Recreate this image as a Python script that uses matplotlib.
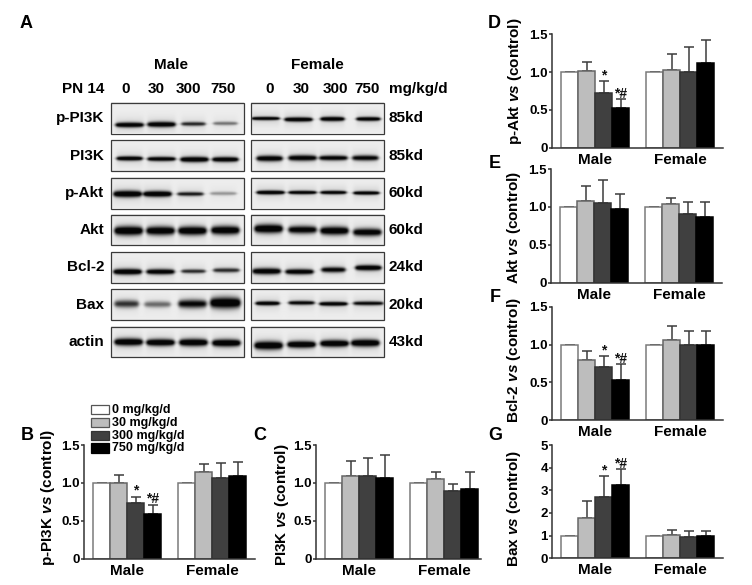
"""Western blot panel plus densitometry bar charts (PN 14, male and female)."""

import numpy as np
import matplotlib
matplotlib.use("Agg")
import matplotlib.pyplot as plt
from matplotlib.patches import Rectangle

plt.rcParams["font.family"] = "Liberation Sans"
plt.rcParams["font.weight"] = "bold"
plt.rcParams["mathtext.fontset"] = "custom"
plt.rcParams["mathtext.bfit"] = "Liberation Sans:italic:bold"
plt.rcParams["mathtext.rm"] = "Liberation Sans:bold"

W, H = 752, 585

# --- blot rows ----------------------------------------------------------------
PROTEINS = ["p-PI3K", "PI3K", "p-Akt", "Akt", "Bcl-2", "Bax", "actin"]
WEIGHTS = ["85kd", "85kd", "60kd", "60kd", "24kd", "20kd", "43kd"]
ROW_TOP = [102.5, 140, 177.5, 214.5, 251.7, 289.3, 326.7]
ROW_BOTTOM = [133.5, 171, 208.5, 245, 282.7, 320, 357.3]

# lane centre (px), band centre (px), darkness and half thickness (px) for each row
MALE_X = [[129, 161, 193, 225], [129, 161, 194, 225], [127, 157, 190, 223], [128, 160, 192, 225],
          [127, 160, 193, 226], [126, 157, 192, 225], [128, 160, 193, 226]]
MALE_Y = [[125.5, 125, 124.5, 124], [158.5, 159, 159.5, 159.5], [194.5, 194.5, 194.5, 194],
          [231, 231, 231, 230.5], [271.5, 271.5, 271, 270], [304, 304.5, 304, 303], [342.5, 343, 343, 343.5]]
MALE_DARK = [[.95, .95, .7, .42], [.95, .92, .97, .95], [1, 1, .75, .3], [1, .95, .97, .95],
             [1, .92, .68, .68], [.65, .45, .82, 1], [1, 1, 1, 1]]
MALE_THICK = [[2.6, 2.8, 2.1, 1.9], [2.3, 2.3, 2.8, 2.6], [3.4, 3, 2.1, 1.9], [4.6, 4.4, 4.4, 4.4],
              [3, 2.8, 2.1, 2.3], [3.8, 3.2, 4.3, 5.6], [3.7, 3.5, 3.7, 3.7]]
FEMALE_X = [[265, 298, 332, 368], [269, 302, 333, 365], [270, 302, 333, 366], [268, 302, 334, 367],
            [266, 299, 333, 368], [267, 301, 333, 368], [268, 301, 334, 365]]
FEMALE_Y = [[119, 120, 119.5, 119.5], [158.5, 158, 158, 158], [193, 193, 193, 193.5],
            [229, 230, 231, 232.5], [271, 271.5, 269.5, 267.5], [303.5, 303, 304, 303.5],
            [346, 345, 344, 343.5]]
FEMALE_DARK = [[.95, .97, .97, .95], [.92, .9, .88, .85], [.97, .92, .92, .95], [1, .88, .95, .9],
               [.95, .92, .85, .97], [.97, .85, .97, .82], [1, 1, 1, 1]]
FEMALE_THICK = [[1.8, 2.3, 2.3, 2.1], [3, 3, 2.6, 2.8], [2.1, 1.9, 1.9, 1.9], [4.4, 3.9, 4.2, 3.9],
                [3.2, 2.8, 2.8, 2.8], [2.1, 2.1, 2.1, 2.1], [4.2, 3.5, 3.5, 3.7]]
BAND_HALF = [[14, 14, 12, 12], [13, 14, 14, 13], [14, 14, 13, 13], [14, 14, 14, 14],
             [14, 14, 12, 13], [12, 13, 14, 15], [14, 14, 14, 14]]

# --- bar panels ---------------------------------------------------------------
DOSES = ["0 mg/kg/d", "30 mg/kg/d", "300 mg/kg/d", "750 mg/kg/d"]
BAR_COLORS = ["white", "#bdbdbd", "#404040", "black"]
EDGE_COLORS = ["#7a7a7a", "#666666", "#333333", "black"]
GROUPS = ["Male", "Female"]

PIK_P_VALS = [1, 1.0, .73, .59, 1, 1.15, 1.06, 1.09]
PIK_P_ERR = [0, .10, .09, .12, 0, .10, .20, .18]
PIK_VALS = [1, 1.09, 1.09, 1.06, 1, 1.05, .89, .92]
PIK_ERR = [0, .20, .24, .31, 0, .10, .10, .22]
AKT_P_VALS = [1, 1.01, .73, .53, 1, 1.03, 1.0, 1.12]
AKT_P_ERR = [0, .12, .15, .11, 0, .21, .33, .30]
AKT_VALS = [1, 1.08, 1.05, .97, 1, 1.04, .91, .87]
AKT_ERR = [0, .19, .30, .20, 0, .08, .16, .19]
BCL_VALS = [1, .80, .70, .53, 1, 1.06, 1.0, 1.0]
BCL_ERR = [0, .11, .15, .21, 0, .19, .18, .18]
BAX_VALS = [1, 1.77, 2.72, 3.22, 1, 1.02, .96, .97]
BAX_ERR = [0, .78, .93, .70, 0, .23, .24, .23]

TICKS_15 = [0, 0.5, 1.0, 1.5]
TICKS_15_LABELS = ["0", "0.5", "1.0", "1.5"]
TICKS_5 = [0, 1, 2, 3, 4, 5]
TICKS_5_LABELS = ["0", "1", "2", "3", "4", "5"]
MARKS = ["", "", "*", "*#", "", "", "", ""]
NO_MARKS = [""] * 8


def px_axes(fig, left, right, top, bottom):
    """Axes placed by reference pixels (y counted from the top of the figure)."""
    return fig.add_axes([left / W, 1 - bottom / H, (right - left) / W, (bottom - top) / H])


def blot_image(xs, ys, darks, thicks, halves, x0, x1, y0, y1):
    """Grey image of one blot strip with soft, lens shaped bands, sampled at 3 per pixel."""
    gx = np.linspace(x0, x1, int((x1 - x0) * 3))
    gy = np.linspace(y0, y1, int((y1 - y0) * 3))
    X, Y = np.meshgrid(gx, gy)
    ink = np.zeros_like(X)
    for cx, cy, d, t, h in zip(xs, ys, darks, thicks, halves):
        along = 0.5 * (np.tanh((X - cx + h) / 2.0) - np.tanh((X - cx - h) / 2.0))
        taper = 0.55 + 0.45 * np.sqrt(np.clip(1 - ((X - cx) / (h + 2)) ** 2, 0, 1))
        core = np.exp(-((Y - cy) / (t * taper)) ** 2)
        haze = np.exp(-((Y - cy) / (t + 5)) ** 2)
        ink = ink + d * along * (1.05 * core + 0.1 * haze)
    return np.clip(0.93 - ink, 0.02, 1)


def draw_blots(bg):
    for i in range(len(PROTEINS)):
        top, bottom = ROW_TOP[i], ROW_BOTTOM[i]
        for xs, ys, dk, th, x0, x1 in [
            (MALE_X[i], MALE_Y[i], MALE_DARK[i], MALE_THICK[i], 110.5, 243.5),
            (FEMALE_X[i], FEMALE_Y[i], FEMALE_DARK[i], FEMALE_THICK[i], 250.5, 383.5),
        ]:
            img = blot_image(xs, ys, dk, th, BAND_HALF[i], x0, x1, top, bottom)
            bg.imshow(img, cmap="gray", vmin=0, vmax=1, extent=(x0, x1, bottom, top),
                      aspect="auto", interpolation="bilinear", zorder=1)
            bg.add_patch(Rectangle((x0, top), x1 - x0, bottom - top, fill=False,
                                   ec="#3a3a3a", lw=0.9, zorder=2))
        bg.text(104, (top + bottom) / 2, PROTEINS[i], ha="right", va="center", fontsize=11)
        bg.text(388.5, (top + bottom) / 2, WEIGHTS[i], ha="left", va="center", fontsize=11)


def draw_header(bg):
    bg.text(171, 65, "Male", ha="center", va="center", fontsize=11)
    bg.text(317, 65, "Female", ha="center", va="center", fontsize=11)
    bg.text(104, 89, "PN 14", ha="right", va="center", fontsize=11)
    lane_x = [125.7, 156, 188.7, 223, 269.7, 301, 335, 367]
    lane_text = ["0", "30", "300", "750"] * 2
    for x, s in zip(lane_x, lane_text):
        bg.text(x, 89, s, ha="center", va="center", fontsize=11)
    bg.text(389, 89, "mg/kg/d", ha="left", va="center", fontsize=11)


def draw_legend(bg):
    tops = [405, 418, 430.7, 443.3]
    for y, lab, col, edge in zip(tops, DOSES, BAR_COLORS, ["#555555", "#555555", "#333333", "black"]):
        bg.add_patch(Rectangle((91, y), 17.5, 9.3, fc=col, ec=edge, lw=0.9))
        bg.text(112, y + 4.8, lab, ha="left", va="center", fontsize=9)


def bar_panel(fig, left, right, top, bottom, vals, errs, marks, ticks, ticklabels, ymax):
    ax = px_axes(fig, left, right, top, bottom)
    ax.patch.set_alpha(0)
    unit = 17.0
    pos = [0, 1, 2, 3, 5, 6, 7, 8]
    x0 = -0.5 - 9 / unit
    ax.set_xlim(x0, x0 + (right - left) / unit)
    ax.set_ylim(0, ymax)
    cols = BAR_COLORS * 2
    edges = EDGE_COLORS * 2
    ax.errorbar(pos, vals, yerr=[[0] * 8, errs], fmt="none", ecolor="#3c3c3c",
                elinewidth=1.1, capsize=3.6, capthick=1.1, zorder=1)
    ax.bar(pos, vals, width=1.0, color=cols, edgecolor=edges, linewidth=1.1, zorder=2)
    for x, v, e, m in zip(pos, vals, errs, marks):
        if m:
            ax.annotate(m, (x, v + e), xytext=(0, -1), textcoords="offset points",
                        ha="center", va="bottom", fontsize=10, color="#111111")
    for sp in ["top", "right"]:
        ax.spines[sp].set_visible(False)
    for sp in ["left", "bottom"]:
        ax.spines[sp].set_color("#333333")
        ax.spines[sp].set_linewidth(1.1)
    ax.set_yticks(ticks)
    ax.set_yticklabels(ticklabels, fontsize=9.5)
    ax.tick_params(axis="y", length=2.5, width=1.1, color="#333333", pad=0.5)
    ax.set_xticks([1.5, 6.5])
    ax.set_xticklabels(GROUPS, fontsize=11)
    ax.tick_params(axis="x", length=0, pad=3.5)
    return ax


fig = plt.figure(figsize=(W / 100, H / 100), dpi=100, facecolor="white")
bg = fig.add_axes([0, 0, 1, 1])
bg.set_xlim(0, W)
bg.set_ylim(H, 0)
bg.axis("off")

draw_header(bg)
draw_blots(bg)
bg.set_xlim(0, W)
bg.set_ylim(H, 0)
draw_legend(bg)

bar_panel(fig, 84, 255, 445, 558.7, PIK_P_VALS, PIK_P_ERR, MARKS, TICKS_15, TICKS_15_LABELS, 1.5)
bar_panel(fig, 316, 481, 445, 558.7, PIK_VALS, PIK_ERR, NO_MARKS, TICKS_15, TICKS_15_LABELS, 1.5)
bar_panel(fig, 552, 723, 34.3, 147.7, AKT_P_VALS, AKT_P_ERR, MARKS, TICKS_15, TICKS_15_LABELS, 1.5)
bar_panel(fig, 551, 722, 169, 282.7, AKT_VALS, AKT_ERR, NO_MARKS, TICKS_15, TICKS_15_LABELS, 1.5)
bar_panel(fig, 552, 723, 306.7, 420.3, BCL_VALS, BCL_ERR, MARKS, TICKS_15, TICKS_15_LABELS, 1.5)
bar_panel(fig, 552, 723, 445, 558.3, BAX_VALS, BAX_ERR, MARKS, TICKS_5, TICKS_5_LABELS, 5)

y_labels = [
    ("p-PI3K", 48, 498), ("PI3K", 282, 505), ("p-Akt", 515, 81),
    ("Akt", 514, 227), ("Bcl-2", 514, 360), ("Bax", 514, 509),
]
for name, x, y in y_labels:
    bg.text(x, y, name + r" $\mathbfit{vs}$ (control)", rotation=90,
            ha="center", va="center", fontsize=11)

letters = [("A", 26, 24), ("B", 27, 435), ("C", 260, 435), ("D", 494, 23),
           ("E", 495, 163), ("F", 495, 298), ("G", 495, 435)]
for s, x, y in letters:
    bg.text(x, y, s, ha="center", va="center", fontsize=13)

fig.savefig("out.png", dpi=100)
